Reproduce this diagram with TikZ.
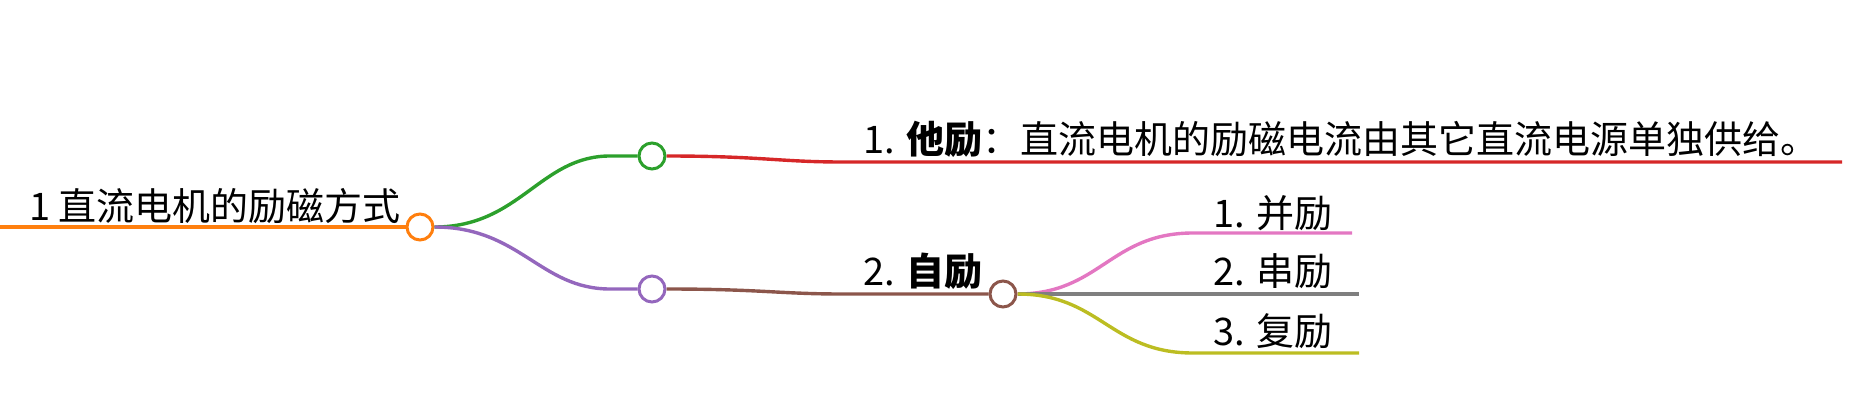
\documentclass[tikz,border=0pt]{standalone}
\usepackage{fontspec}
\newfontfamily\cjk{Noto Sans CJK SC}
\definecolor{corange}{HTML}{FF7F0E}
\definecolor{cgreen}{HTML}{2CA02C}
\definecolor{cpurple}{HTML}{9467BD}
\definecolor{cred}{HTML}{D62728}
\definecolor{cbrown}{HTML}{8C564B}
\definecolor{cpink}{HTML}{E377C2}
\definecolor{cgray}{HTML}{7F7F7F}
\definecolor{colive}{HTML}{BCBD22}
\tikzstyle{dot} = [circle, draw, line width=3pt, minimum size=26pt, inner sep=0pt, fill=white]
\tikzstyle{lbl} = [anchor=base west, inner sep=0pt, font=\cjk\fontsize{38}{41}\selectfont]
\tikzstyle{branch} = [line width=3.4pt]

\begin{document}
\begin{tikzpicture}[x=1pt, y=-1pt]
  \useasboundingbox (0,0) rectangle (1865,420);
  \node (c0) at (420,227) [dot, draw=corange] {};
  \node (c1) at (652,156) [dot, draw=cgreen] {};
  \node (c2) at (652,289) [dot, draw=cpurple] {};
  \node (c3) at (1003,294) [dot, draw=cbrown] {};
  \node (t0) at (29,220) [lbl] {1 直流电机的励磁方式};
  \node (t1) at (863,153) [lbl] {1. \textbf{他励}：直流电机的励磁电流由其它直流电源单独供给。};
  \node (t2) at (863,285) [lbl] {2. \textbf{自励}};
  \node (t21) at (1213,227) [lbl] {1. 并励};
  \node (t22) at (1213,285) [lbl] {2. 串励};
  \node (t23) at (1213,345) [lbl] {3. 复励};
  \coordinate (s0) at (0,227);
  \coordinate (h1) at (610,156);
  \coordinate (h2) at (610,289);
  \coordinate (b1) at (842,162);
  \coordinate (b2) at (842,294);
  \coordinate (e1) at (1842,162);
  \coordinate (h21) at (1193,233);
  \coordinate (h23) at (1193,353);
  \coordinate (e21) at (1352,233);
  \coordinate (e22) at (1359,294);
  \coordinate (e23) at (1359,353);
  \draw [branch, corange, line width=4pt] (s0) -- (c0);
  \draw [branch, cgreen] (c0.east) .. controls (520,227) and (540,156) .. (h1) -- (c1);
  \draw [branch, cpurple] (c0.east) .. controls (520,227) and (540,289) .. (h2) -- (c2);
  \draw [branch, cred] (c1.east) .. controls (760,156) and (780,162) .. (b1) -- (e1);
  \draw [branch, cbrown] (c2.east) .. controls (760,289) and (780,294) .. (b2) -- (c3);
  \draw [branch, cpink] (c3.east) .. controls (1100,294) and (1110,233) .. (h21) -- (e21);
  \draw [branch, cgray] (c3.east) -- (e22);
  \draw [branch, colive] (c3.east) .. controls (1100,294) and (1110,353) .. (h23) -- (e23);
\end{tikzpicture}
\end{document}
